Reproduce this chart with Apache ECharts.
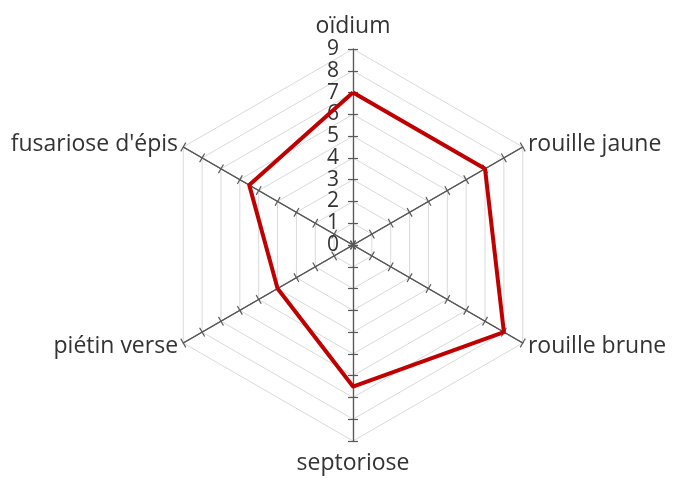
<!DOCTYPE html>
<html>
<head>
<meta charset="utf-8">
<script src="https://cdn.jsdelivr.net/npm/echarts@6/dist/echarts.min.js"></script>
<style>
html,body{margin:0;padding:0;background:#fff;}
#c{width:673px;height:478px;}
</style>
</head>
<body>
<div id="c"></div>
<script>
// Indicators in counter-clockwise order starting from the top
const indicatorNames = ['oïdium', "fusariose d'épis", 'piétin verse', 'septoriose', 'rouille brune', 'rouille jaune'];
const seriesValues = [7, 5.5, 4, 6.5, 8, 7];
const axisMax = 9;
const tickLabels = ['0','1','2','3','4','5','6','7','8','9'];

const chart = echarts.init(document.getElementById('c'), null, {renderer: 'canvas'});
const font = 'Open Sans';
const indicators = indicatorNames.map((n, i) => ({
  name: n, min: 0, max: axisMax,
  axisLabel: {show: i === 0}
}));
const indicators2 = indicatorNames.map(() => ({name: '', min: 0, max: axisMax}));

chart.setOption({
  animation: false,
  radar: [{
    center: [353, 245],
    radius: 196,
    startAngle: 90,
    splitNumber: tickLabels.length - 1,
    shape: 'polygon',
    indicator: indicators,
    axisName: {color: '#333333', fontFamily: font, fontSize: 23, padding: [5, 0]},
    nameGap: 6,
    axisLine: {lineStyle: {color: '#595959', width: 1.2}},
    axisTick: {show: true, length: 5, lineStyle: {color: '#595959', width: 1.2}},
    axisLabel: {show: false, color: '#333333', fontFamily: font, fontSize: 21, margin: 14,
      formatter: v => tickLabels[Math.round(v)] },
    splitLine: {lineStyle: {color: '#d9d9d9', width: 1}},
    splitArea: {show: false}
  }, {
    center: [353, 245],
    radius: 196,
    startAngle: 90,
    splitNumber: tickLabels.length - 1,
    shape: 'polygon',
    indicator: indicators2,
    axisName: {show: false},
    axisLine: {lineStyle: {color: '#595959', width: 1.2}},
    axisTick: {show: true, length: -5, lineStyle: {color: '#595959', width: 1.2}},
    axisLabel: {show: false},
    splitLine: {show: false},
    splitArea: {show: false}
  }],
  series: [{
    type: 'radar',
    radarIndex: 0,
    symbol: 'none',
    lineStyle: {color: '#c00000', width: 4},
    data: [{value: seriesValues}]
  }]
});
</script>
</body>
</html>
